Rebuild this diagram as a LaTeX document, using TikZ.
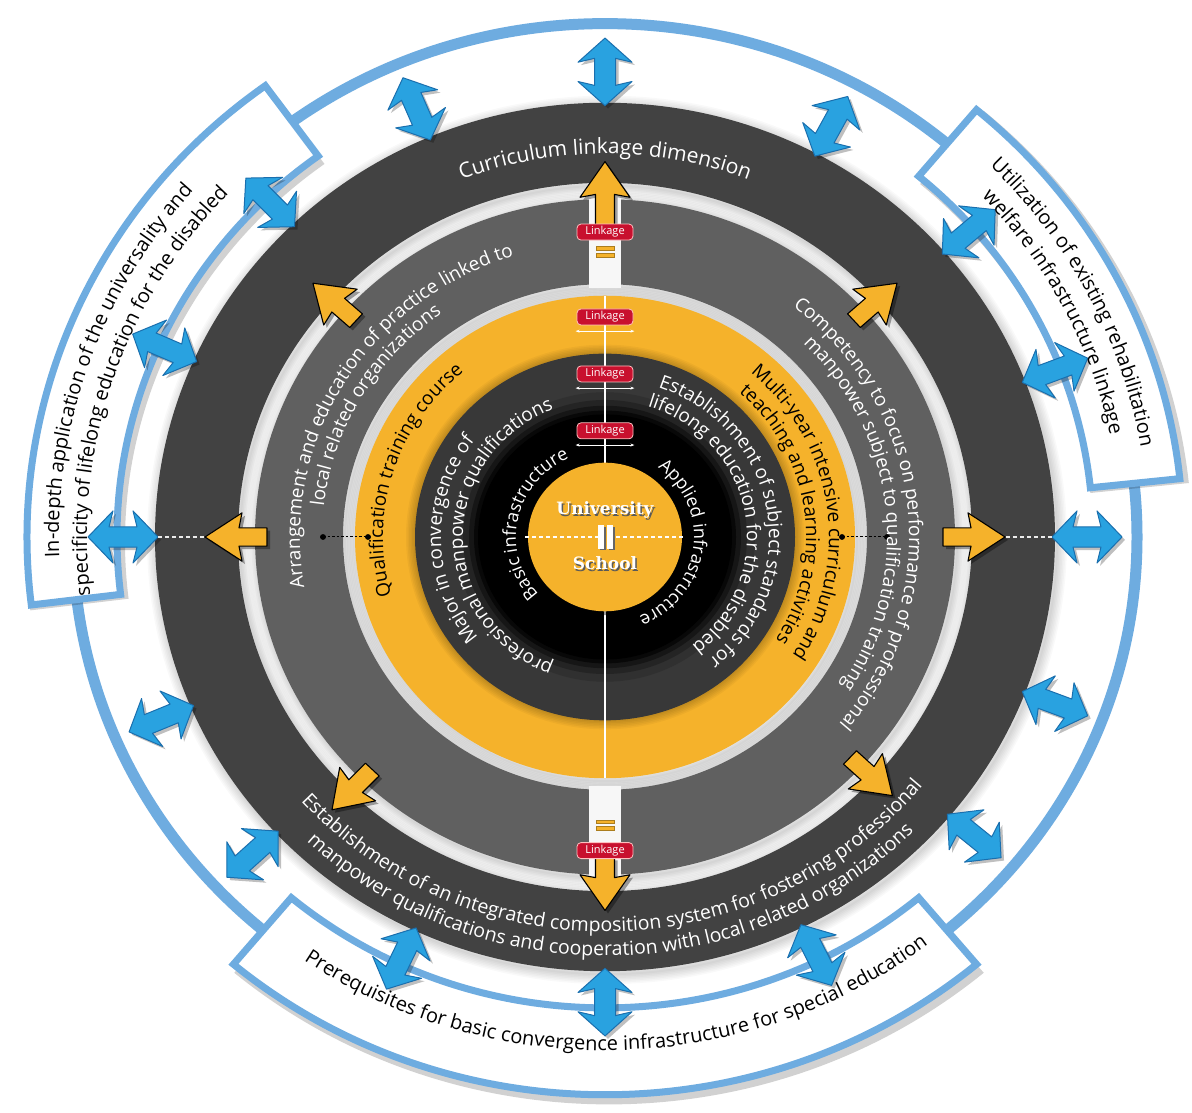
\documentclass[tikz,border=0pt]{standalone}
\usepackage{fontspec}
\setmainfont{Open Sans}
\newfontfamily\lab{Open Sans}
\newfontfamily\slab{DejaVu Serif}
\usetikzlibrary{decorations.text,arrows.meta}

\definecolor{ringA}{HTML}{424242}
\definecolor{ringB}{HTML}{606060}
\definecolor{ringC}{HTML}{383838}
\definecolor{orng}{HTML}{F5B22B}
\definecolor{bluA}{HTML}{29A2E0}
\definecolor{bluE}{HTML}{1A6FAE}
\definecolor{bluR}{HTML}{6EACE0}
\definecolor{redL}{HTML}{C8102E}

\newcommand\fA{\lab\fontsize{19}{22}\selectfont}
\newcommand\fB{\lab\fontsize{20}{24}\selectfont}
\newcommand\fC{\lab\fontsize{21}{24}\selectfont}
\newcommand\fD{\lab\fontsize{18}{22}\selectfont}
\newcommand\fE{\lab\fontsize{19.5}{22}\selectfont}

% clockwise text (letter tops outward)
\newcommand\cwtext[6]{%
  \pgfmathsetmacro\aS{#2+#3}\pgfmathsetmacro\aE{#2-#3}%
  \path[decorate, decoration={text along path, text align=center, text color=#4, text={|#5|#6}}]
    (\aS:#1) arc[start angle=\aS, end angle=\aE, radius=#1];}
% counter-clockwise text (letter tops inward)
\newcommand\ccwtext[6]{%
  \pgfmathsetmacro\aS{#2-#3}\pgfmathsetmacro\aE{#2+#3}%
  \path[decorate, decoration={text along path, text align=center, text color=#4, text={|#5|#6}}]
    (\aS:#1) arc[start angle=\aS, end angle=\aE, radius=#1];}

\newcommand\blueArrow[1]{%
  \begin{scope}[shift={(3,-3)},rotate=#1]
    \fill[black,opacity=0.25] (447,0) -- (472,27) -- (468,10.5) -- (496,10.5) -- (492,27) -- (517,0) -- (492,-27) -- (496,-10.5) -- (468,-10.5) -- (472,-27) -- cycle;
  \end{scope}
  \begin{scope}[rotate=#1]
    \filldraw[fill=bluA, draw=bluE, line width=1, line join=round] (447,0) -- (472,27) -- (468,10.5) -- (496,10.5) -- (492,27) -- (517,0) -- (492,-27) -- (496,-10.5) -- (468,-10.5) -- (472,-27) -- cycle;
  \end{scope}}

\newcommand\orArrow[3]{%
  \begin{scope}[shift={(3,-3)},rotate=#1]
    \fill[black,opacity=0.35] (#2,9.5) -- ({#3-34},9.5) -- ({#3-37},25) -- (#3,0) -- ({#3-37},-25) -- ({#3-34},-9.5) -- (#2,-9.5) -- cycle;
  \end{scope}
  \begin{scope}[rotate=#1]
    \filldraw[fill=orng, draw=black, line width=1.1, line join=round] (#2,9.5) -- ({#3-34},9.5) -- ({#3-37},25) -- (#3,0) -- ({#3-37},-25) -- ({#3-34},-9.5) -- (#2,-9.5) -- cycle;
  \end{scope}}

\newcommand\infobox[2]{%
  \begin{scope}[shift={(4,-5)}]
    \fill[black,opacity=0.18] (#1:484) arc[start angle=#1,end angle=#2,radius=484] -- (#2:583) arc[start angle=#2,end angle=#1,radius=583] -- cycle;
  \end{scope}
  \filldraw[fill=white, draw=bluR, line width=7] (#1:488) arc[start angle=#1,end angle=#2,radius=488] -- (#2:578) arc[start angle=#2,end angle=#1,radius=578] -- cycle;}

\tikzset{
  linkage/.style={fill=redL, draw=red!25!white, line width=0.8, rounded corners=4,
    minimum width=56, minimum height=16, inner sep=0, text=white, font=\lab\fontsize{11}{12}\selectfont},
  smallarrow/.style={white, line width=0.8, {Stealth[length=4pt,width=3pt]}-{Stealth[length=4pt,width=3pt]}},
  eqbar/.style={fill=orng, draw=orng!70!black, line width=0.4},
  whitedash/.style={white!85!gray, line width=1.4, dash pattern=on 4pt off 3pt},
  blackdot/.style={black, line width=1, dash pattern=on 2.5pt off 2pt},
  centertext/.style={font=\slab\bfseries\fontsize{17}{18}\selectfont}
}

\begin{document}
\begin{tikzpicture}[x=1pt,y=1pt]
\useasboundingbox (0,0) rectangle (1192,1113);
\fill[white] (0,0) rectangle (1192,1113);
\begin{scope}[shift={(605,576)}, yscale=0.965]
  % outer blue ring
  \draw[bluR, line width=11] (0,0) circle[radius=532];
  % soft shadows round the rings
  \foreach \RR in {450,367,350,262,250}{
    \foreach \ww in {2,5,...,20}{\draw[black,opacity=0.022,line width=\ww] (2,-3) circle[radius=\RR];}}
  % rings
  \fill[ringA, even odd rule] (0,0) circle[radius=450] (0,0) circle[radius=367];
  \fill[ringB, even odd rule] (0,0) circle[radius=350] (0,0) circle[radius=262];
  \fill[gray!6] (-16,258) rectangle (16,354);
  \fill[gray!6] (-16,-258) rectangle (16,-354);
  \fill[orng] (0,0) circle[radius=250];
  \foreach \ww in {3,6,...,18}{\draw[black,opacity=0.035,line width=\ww] (0,0) circle[radius=190];}
  \fill[ringC] (0,0) circle[radius=190];
  \fill[ringC!85!black] (0,0) circle[radius=150];
  \fill[ringC!65!black] (0,0) circle[radius=142];
  \fill[ringC!40!black] (0,0) circle[radius=136];
  \fill[ringC!15!black] (0,0) circle[radius=131];
  \fill[black] (0,0) circle[radius=127];
  % vertical white line
  \coordinate (vt) at (0,250);
  \coordinate (vb) at (0,-250);
  \draw[white, line width=1.4] (vt) -- (vb);
  % centre disc
  \fill[black,opacity=0.4] (2,-3) circle[radius=78];
  \fill[orng] (0,0) circle[radius=77];
  \coordinate (hl) at (-80,0);
  \coordinate (hr) at (80,0);
  \draw[white, line width=1.1, dash pattern=on 4pt off 3pt] (hl) -- (hr);

  % white boxes
  \infobox{126}{187}
  \infobox{6}{50}
  \infobox{230}{310}

  % blue double arrows
  \foreach \aa in {0,21,41,62,90,113,134,156,180,203,223,245,270,296,320,339}{\blueArrow{\aa}}

  % orange arrows
  \orArrow{90}{318}{389}
  \orArrow{270}{332}{387}
  \orArrow{0}{338}{400}
  \orArrow{180}{338}{400}
  \orArrow{42}{335}{393}
  \orArrow{138}{335}{393}
  \orArrow{226}{335}{393}
  \orArrow{317}{335}{393}

  % dashed connections on the horizontal axis
  \coordinate (wl1) at (-447,0); \coordinate (wl2) at (-401,0);
  \coordinate (wr1) at (401,0);  \coordinate (wr2) at (447,0);
  \draw[whitedash] (wl1) -- (wl2);
  \draw[whitedash] (wr1) -- (wr2);
  \coordinate (dl1) at (-282,0); \coordinate (dl2) at (-237,0);
  \coordinate (dr1) at (237,0);  \coordinate (dr2) at (282,0);
  \draw[blackdot] (dl1) -- (dl2);
  \draw[blackdot] (dr1) -- (dr2);
  \foreach \pp in {dl1,dl2,dr1,dr2}{\fill[black] (\pp) circle[radius=3];}

  % '=' signs
  \fill[eqbar] (-9,297) rectangle (9,301);
  \fill[eqbar] (-9,290) rectangle (9,294);
  \fill[eqbar] (-9,-297) rectangle (9,-293);
  \fill[eqbar] (-9,-304) rectangle (9,-300);

  % Linkage labels
  \node[linkage] (L1) at (0,316) {Linkage};
  \node[linkage] (L2) at (0,228) {Linkage};
  \node[linkage] (L3) at (0,169) {Linkage};
  \node[linkage] (L4) at (0,110) {Linkage};
  \node[linkage] (L5) at (0,-325) {Linkage};
  \foreach \nn in {L2,L3,L4}{
    \draw[smallarrow] ([xshift=-1pt,yshift=-6pt]\nn.south west) -- ([xshift=1pt,yshift=-6pt]\nn.south east);}

  % texts: outer dark ring
  \cwtext{397}{90}{60}{white}{\fC}{Curriculum linkage dimension}
  \ccwtext{409}{271.5}{75}{white}{\fE}{Establishment of an integrated composition system for fostering professional}
  \ccwtext{434}{271}{75}{white}{\fE}{manpower qualifications and cooperation with local related organizations}
  % medium ring
  \cwtext{305}{149}{70}{white}{\fA}{Arrangement and education of practice linked to}
  \cwtext{283}{150}{70}{white}{\fA}{local related organizations}
  \cwtext{304}{6}{70}{white}{\fA}{Competency to focus on performance of professional}
  \cwtext{282}{6}{70}{white}{\fA}{manpower subject to qualification training}
  % orange ring
  \cwtext{222}{163}{70}{black}{\fA}{Qualification training course}
  \cwtext{224}{8}{70}{black}{\fA}{Multi-year intensive curriculum and}
  \cwtext{201}{8}{70}{black}{\fA}{teaching and learning activities}
  % inner dark ring
  \cwtext{164}{181}{80}{white}{\fA}{Major in convergence of}
  \cwtext{142}{180}{100}{white}{\fA}{professional manpower qualifications}
  \cwtext{164}{10}{90}{white}{\fA}{Establishment of subject standards for}
  \cwtext{142}{10}{95}{white}{\fA}{lifelong education for the disabled}
  % black ring
  \cwtext{89}{168}{90}{white}{\fD}{Basic infrastructure}
  \cwtext{89}{-7}{90}{white}{\fD}{Applied infrastructure}
  % boxes
  \cwtext{546}{161}{60}{black}{\fB}{In-depth application of the universality and}
  \cwtext{518}{162}{60}{black}{\fB}{specificity of lifelong education for the disabled}
  \cwtext{544}{27}{50}{black}{\fB}{Utilization of existing rehabilitation}
  \cwtext{516}{27}{50}{black}{\fB}{welfare infrastructure linkage}
  \ccwtext{532}{271.5}{60}{black}{\fB}{Prerequisites for basic convergence infrastructure for special education}

  % centre texts
  \node[centertext, text=black!65] (U0) at (1.5,26) {University};
  \node[centertext, text=white] (U) at (0,28) {University};
  \node[centertext, text=black!65] (S0) at (1.5,-29) {School};
  \node[centertext, text=white] (S) at (0,-27) {School};
  \fill[black!60] (-5.5,-14) rectangle (0.5,10);
  \fill[black!60] (4,-14) rectangle (10,10);
  \fill[white] (-7.5,-12) rectangle (-1.5,12);
  \fill[white] (2,-12) rectangle (8,12);
\end{scope}
\end{tikzpicture}
\end{document}
